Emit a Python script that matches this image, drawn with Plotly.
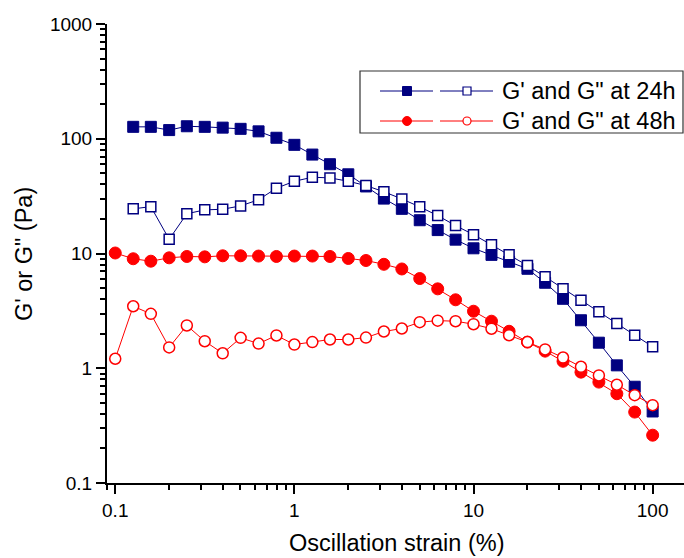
import plotly.graph_objects as go

# ---- data ----
strain_48 = [0.1, 0.126, 0.158, 0.2, 0.251, 0.316, 0.398, 0.501, 0.631, 0.794,
             1.0, 1.26, 1.58, 2.0, 2.51, 3.16, 3.98, 5.01, 6.31, 7.94,
             10, 12.6, 15.8, 20, 25.1, 31.6, 39.8, 50.1, 63.1, 79.4, 100]
strain_24 = strain_48[1:]

g1_24 = [127, 127, 119, 128.5, 127, 125, 122, 116, 102, 88.5,
         72.8, 60, 49, 38.4, 30.1, 24.5, 19.5, 16.0, 13.2, 11.1,
         9.73, 8.47, 7.36, 5.56, 4.03, 2.62, 1.67, 1.06, 0.69, 0.42]
g2_24 = [24.5, 25.6, 13.3, 22.2, 24.0, 24.3, 26.0, 29.4, 37.1, 42.6,
         46.2, 45.6, 42.6, 39.1, 34.5, 29.9, 25.5, 21.4, 17.5, 14.6,
         11.9, 9.73, 7.85, 6.26, 4.92, 3.92, 3.10, 2.45, 1.94, 1.54]
g1_48 = [10.1, 9.0, 8.57, 9.17, 9.42, 9.35, 9.55, 9.55, 9.5, 9.42,
         9.5, 9.5, 9.42, 9.05, 8.69, 8.05, 7.33, 6.05, 4.92, 3.95,
         3.14, 2.57, 2.10, 1.69, 1.41, 1.15, 0.925, 0.757, 0.60, 0.415, 0.261]
g2_48 = [1.21, 3.47, 2.98, 1.52, 2.36, 1.72, 1.35, 1.84, 1.64, 1.93,
         1.61, 1.69, 1.78, 1.78, 1.85, 2.09, 2.22, 2.52, 2.60, 2.57,
         2.42, 2.21, 1.94, 1.69, 1.46, 1.24, 1.03, 0.865, 0.718, 0.583, 0.477]

legend_labels = ["G' and G\" at 24h", "G' and G\" at 48h"]
major_ticks = [0.1, 1, 10, 100, 1000]
major_text = ["0.1", "1", "10", "100", "1000"]
x_minor = [0.09, 0.2, 0.3, 0.4, 0.5, 0.6, 0.7, 0.8, 0.9,
           2, 3, 4, 5, 6, 7, 8, 9, 20, 30, 40, 50, 60, 70, 80, 90, 200]
y_minor = [0.2, 0.3, 0.4, 0.5, 0.6, 0.7, 0.8, 0.9,
           2, 3, 4, 5, 6, 7, 8, 9, 20, 30, 40, 50, 60, 70, 80, 90,
           200, 300, 400, 500, 600, 700, 800, 900]

NAVY = "#000080"
RED = "#FF0000"
FONT = "Arial, Liberation Sans, sans-serif"

W, H = 684, 558
L, R, T, B = 107, 0, 24, 75
PW, PH = W - L - R, H - T - B

fig = go.Figure()
fig.add_trace(go.Scatter(x=strain_24, y=g1_24, mode="lines+markers",
                         line=dict(color=NAVY, width=1),
                         marker=dict(symbol="square", size=11, color=NAVY,
                                     line=dict(color=NAVY, width=1))))
fig.add_trace(go.Scatter(x=strain_24, y=g2_24, mode="lines+markers",
                         line=dict(color=NAVY, width=1),
                         marker=dict(symbol="square", size=10, color="white",
                                     line=dict(color=NAVY, width=1.5))))
fig.add_trace(go.Scatter(x=strain_48, y=g1_48, mode="lines+markers",
                         line=dict(color=RED, width=1),
                         marker=dict(symbol="circle", size=12, color=RED,
                                     line=dict(color=RED, width=1))))
fig.add_trace(go.Scatter(x=strain_48, y=g2_48, mode="lines+markers",
                         line=dict(color=RED, width=1),
                         marker=dict(symbol="circle", size=11, color="white",
                                     line=dict(color=RED, width=1.5))))

def px(xp):
    return (xp - L) / PW

def py(yp):
    return (H - B - yp) / PH

shapes = []
annotations = []
# legend box
shapes.append(dict(type="rect", xref="paper", yref="paper",
                   x0=px(360), x1=px(683), y0=py(133), y1=py(71),
                   line=dict(color="#333333", width=1.2), fillcolor="white"))
rows = [(91, NAVY, "square"), (121, RED, "circle")]
for (ry, col, sym), lab in zip(rows, legend_labels):
    for (x0, x1, xm, filled) in [(380, 433, 407, True), (440, 493, 467, False)]:
        shapes.append(dict(type="line", xref="paper", yref="paper",
                           x0=px(x0), x1=px(x1), y0=py(ry), y1=py(ry),
                           line=dict(color=col, width=1)))
        half = 4.5 if filled else 4
        shapes.append(dict(type="rect" if sym == "square" else "circle",
                           xref="paper", yref="paper",
                           xsizemode="pixel", ysizemode="pixel",
                           xanchor=px(xm), yanchor=py(ry),
                           x0=-half, x1=half, y0=-half, y1=half,
                           fillcolor=col if filled else "white",
                           line=dict(color=col, width=1 if filled else 1.2)))
    annotations.append(dict(xref="paper", yref="paper", x=px(500), y=py(ry),
                            xanchor="left", yanchor="middle", showarrow=False,
                            text=lab, font=dict(family=FONT, size=23.5, color="black")))

annotations.append(dict(xref="paper", yref="paper", x=px(396), y=py(543),
                        xanchor="center", yanchor="middle", showarrow=False,
                        text="Oscillation strain (%)",
                        font=dict(family=FONT, size=23.5, color="black")))
annotations.append(dict(xref="paper", yref="paper", x=px(24), y=py(254),
                        xanchor="center", yanchor="middle", showarrow=False,
                        textangle=-90, text="G' or G\" (Pa)",
                        font=dict(family=FONT, size=23.5, color="black")))

axis_common = dict(type="log", showline=True, linecolor="black", linewidth=2,
                   showgrid=False, zeroline=False, ticks="outside", ticklen=9,
                   tickwidth=2, tickcolor="black",
                   tickfont=dict(family=FONT, size=19, color="black"),
                   tickvals=major_ticks, ticktext=major_text)

fig.update_layout(
    width=W, height=H, margin=dict(l=L, r=R, t=T, b=B, pad=0),
    paper_bgcolor="white", plot_bgcolor="white", showlegend=False,
    xaxis=dict(axis_common, range=[-1.046, 2.175],
               minor=dict(ticks="outside", ticklen=5, tickwidth=1.5,
                          tickcolor="black", tickvals=x_minor, showgrid=False)),
    yaxis=dict(axis_common, range=[-1, 3],
               minor=dict(ticks="outside", ticklen=5, tickwidth=1.5,
                          tickcolor="black", tickvals=y_minor, showgrid=False)),
    shapes=shapes, annotations=annotations,
)

fig.write_html("out.html", config={"displayModeBar": False},
               post_script="document.body.style.margin='0';document.body.style.overflow='hidden';")
